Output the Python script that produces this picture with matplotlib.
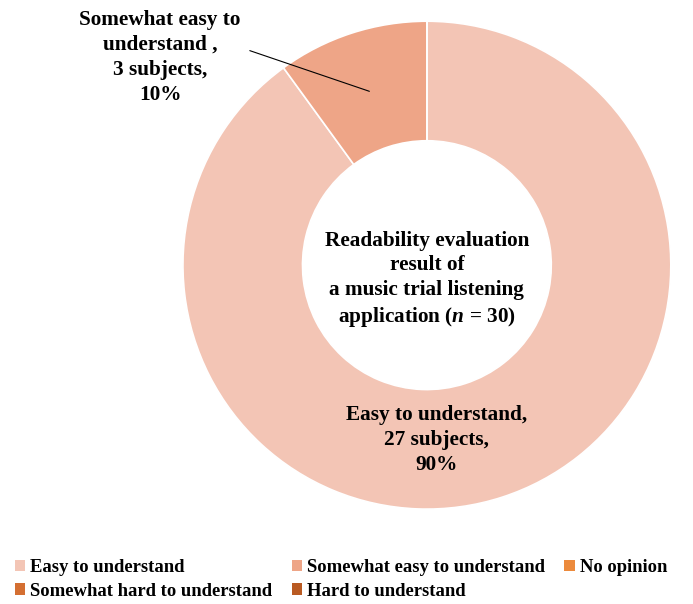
import matplotlib.pyplot as plt
from matplotlib.patches import Patch

plt.rcParams['font.family'] = 'Liberation Serif'
plt.rcParams['font.weight'] = 'bold'
plt.rcParams['mathtext.fontset'] = 'custom'
plt.rcParams['mathtext.it'] = 'Liberation Serif:italic:bold'
plt.rcParams['mathtext.rm'] = 'Liberation Serif:bold'

# Readability evaluation data (n = 30)
categories = ['Easy to understand', 'Somewhat easy to understand', 'No opinion',
              'Somewhat hard to understand', 'Hard to understand']
subjects = [27, 3, 0, 0, 0]
colors = ['#F3C5B5', '#EEA587', '#EC8A3C', '#D46F32', '#B95A22']

fig = plt.figure(figsize=(6.93, 6.04), dpi=100)
ax = fig.add_axes([0.264, 0.157, 0.704, 0.808])

wedges, _ = ax.pie(subjects, colors=colors, startangle=90, counterclock=False,
                   radius=1, wedgeprops=dict(width=0.49, edgecolor='white', linewidth=1.2))
ax.set_xlim(-1, 1)
ax.set_ylim(-1, 1)
ax.set_aspect('equal')
ax.axis('off')

total = sum(subjects)
ax.text(0, -0.06, 'Readability evaluation\nresult of\na music trial listening\napplication ($n$ = 30)',
        ha='center', va='center', fontsize=15.3, fontweight='bold', linespacing=1.3)

pct = [round(100 * s / total) for s in subjects]
ax.text(0.041, -0.717, f'{categories[0]},\n{subjects[0]} subjects,\n{pct[0]}%',
        ha='center', va='center', fontsize=15.3, fontweight='bold', linespacing=1.33)

ax.annotate(f'Somewhat easy to\nunderstand ,\n{subjects[1]} subjects,\n{pct[1]}%',
            xy=(-0.225, 0.709), xytext=(-1.094, 0.852),
            ha='center', va='center', fontsize=15.3, fontweight='bold', linespacing=1.33,
            arrowprops=dict(arrowstyle='-', color='black', lw=0.8,
                            relpos=(1.04, 0.58)),
            annotation_clip=False)

# legend fills column-wise; reorder so rows read left to right
order = [0, 3, 1, 4, 2]
handles = [Patch(facecolor=colors[i], edgecolor='none') for i in order]
labels = [categories[i] for i in order]
fig.legend(handles, labels, loc='upper left', bbox_to_anchor=(-0.003, 0.102),
           ncol=3, frameon=False, fontsize=13.4, handlelength=0.55, handleheight=0.55,
           handletextpad=0.3, columnspacing=1.02, labelspacing=0.35)

fig.savefig('out.png', dpi=100, facecolor='white')
